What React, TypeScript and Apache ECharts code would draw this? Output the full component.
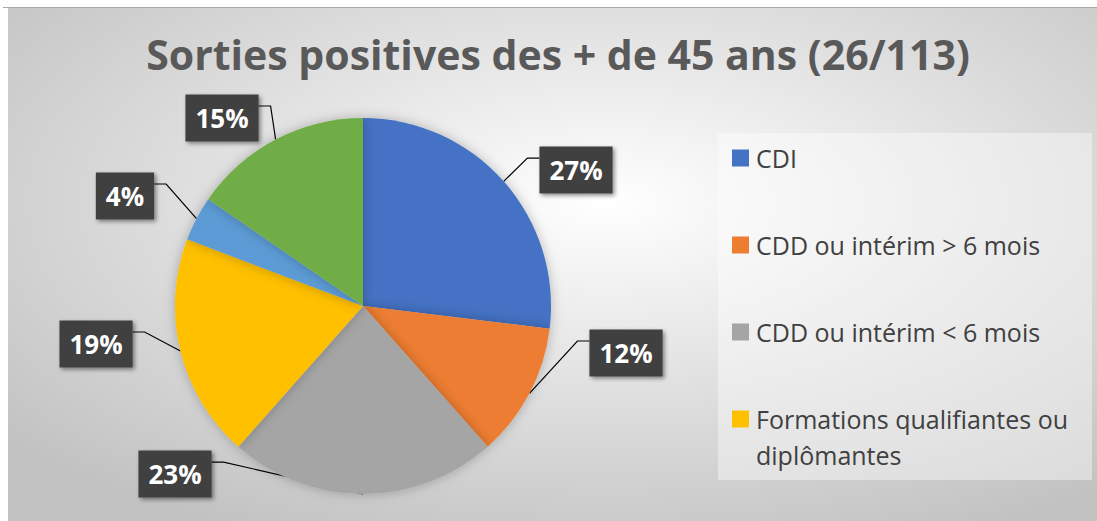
import React, { useEffect, useRef } from "react";
import * as echarts from "echarts";

const TITLE = "Sorties positives des + de 45 ans (26/113)";
const CATEGORIES = [
  "CDI",
  "CDD ou intérim > 6 mois",
  "CDD ou intérim < 6 mois",
  "Formations qualifiantes ou diplômantes",
  "Contrats aidés",
  "Création d'entreprise",
];
const VALUES = [7, 3, 6, 5, 1, 4];
const COLORS = ["#4472C4", "#ED7D31", "#A5A5A5", "#FFC000", "#5B9BD5", "#70AD47"];
const LEGEND_ITEMS = CATEGORIES.slice(0, 4);

// label placement relative to pie centre, in units of the pie radius
const LABEL_OFFSETS = [
  [1.133, -0.723],
  [1.399, 0.25],
  [-1.0, 0.894],
  [-1.42, 0.202],
  [-1.266, -0.585],
  [-0.75, -1.0],
];

const CX = 363;
const CY = 306;
const R = 188;

export default function App() {
  const ref = useRef<HTMLDivElement>(null);
  useEffect(() => {
    if (!ref.current) return;
    const chart = echarts.init(ref.current, null, { renderer: "svg" });
    const total = VALUES.reduce((a, b) => a + b, 0);
    const mids: number[] = [];
    let acc = 0;
    VALUES.forEach((v) => {
      mids.push(((acc + v / 2) / total) * Math.PI * 2);
      acc += v;
    });

    chart.setOption({
      animation: false,
      color: COLORS,
      graphic: [
        {
          type: "rect",
          shape: { x: 8, y: 8, width: 1089, height: 513 },
          style: {
            fill: {
              type: "radial",
              x: 0.55,
              y: 0.38,
              r: 0.72,
              colorStops: [
                { offset: 0, color: "#ffffff" },
                { offset: 1, color: "#c2c2c2" },
              ],
            },
          },
          z: -10,
        },
        {
          type: "line",
          shape: { x1: 3, y1: 7.5, x2: 1097, y2: 7.5 },
          style: { stroke: "#a8a8a8", lineWidth: 1 },
          z: -9,
        },
        {
          type: "rect",
          shape: { x: 718, y: 133, width: 374, height: 347 },
          style: { fill: "rgba(255,255,255,0.4)" },
          z: -8,
        },
      ],
      title: {
        text: TITLE,
        left: 558,
        textAlign: "center",
        top: 28,
        padding: 0,
        textStyle: {
          fontFamily: "Open Sans",
          fontWeight: "bold",
          fontSize: 41,
          color: "#595959",
          lineHeight: 52,
        },
      },
      legend: {
        orient: "vertical",
        left: 732,
        top: 104,
        height: 410,
        padding: 0,
        itemGap: -21,
        itemWidth: 17,
        itemHeight: 17,
        icon: "rect",
        selectedMode: false,
        textStyle: {
          fontFamily: "Open Sans",
          fontSize: 25,
          color: "#404040",
          lineHeight: 36,
          padding: [0, 0, 0, 2],
        },
        formatter: (name: string) =>
          name === CATEGORIES[3]
            ? "\nFormations qualifiantes ou\ndiplômantes"
            : "\n" + name + "\n ",
        data: LEGEND_ITEMS,
      },
      series: [
        {
          type: "pie",
          center: [CX, CY],
          radius: R,
          startAngle: 90,
          clockwise: true,
          itemStyle: {
            shadowBlur: 12,
            shadowColor: "rgba(0,0,0,0.25)",
          },
          label: {
            show: true,
            position: "outside",
            formatter: (p: any) => Math.round(p.percent) + "%",
            color: "#ffffff",
            fontFamily: "Open Sans",
            fontWeight: "bold",
            fontSize: 26,
            lineHeight: 35,
            backgroundColor: "#404040",
            padding: [6, 10, 6, 10],
            shadowBlur: 4,
            shadowOffsetX: 2,
            shadowOffsetY: 2,
            shadowColor: "rgba(0,0,0,0.45)",
          },
          labelLine: {
            show: true,
            length: 10,
            length2: 10,
            lineStyle: { color: "#000000", width: 1.2 },
          },
          labelLayout: (params: any) => {
            const i = params.dataIndex;
            const off = LABEL_OFFSETS[i];
            const x = CX + off[0] * R;
            const y = CY + off[1] * R;
            const w = params.labelRect.width;
            const a = mids[i];
            const ax = CX + R * Math.sin(a);
            const ay = CY - R * Math.cos(a);
            const right = x > ax;
            const ex = right ? x - w / 2 : x + w / 2;
            const ey = y - 12;
            const elbowX = right ? ex - 12 : ex + 12;
            return {
              x,
              y,
              align: "center",
              verticalAlign: "middle",
              labelLinePoints: [
                [ax, ay],
                [elbowX, ey],
                [ex, ey],
              ],
            };
          },
          data: CATEGORIES.map((name, i) => ({ name, value: VALUES[i] })),
        },
      ],
    });
    return () => chart.dispose();
  }, []);
  return (
    <div
      ref={ref}
      style={{ position: "absolute", left: 0, top: 0, width: 1097, height: 521, background: "#ffffff" }}
    />
  );
}
